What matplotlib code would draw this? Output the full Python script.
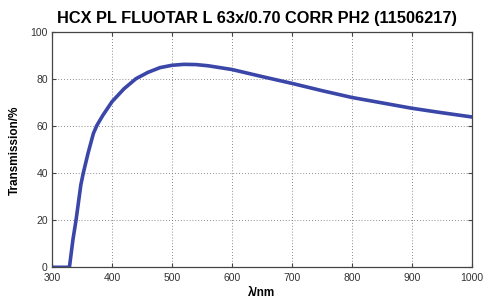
import numpy as np
import matplotlib
matplotlib.use("Agg")
import matplotlib.pyplot as plt

# transmission curve
wavelength = [300, 329, 335, 340, 348, 352, 360, 369, 375, 385, 400, 420, 440, 460, 480,
              500, 520, 540, 560, 580, 600, 650, 700, 750, 800, 850, 900, 950, 1000]
transmission = [0, 0, 12, 20, 35, 40, 48.5, 57, 60.5, 64.8, 70.5, 76, 80.3, 83, 85,
                86, 86.4, 86.3, 85.8, 85, 84.2, 81.2, 78.3, 75.2, 72.3, 70, 67.7, 65.8, 64.0]

x_ticks = [300, 400, 500, 600, 700, 800, 900, 1000]
y_ticks = [0, 20, 40, 60, 80, 100]

plt.rcParams['font.family'] = ['Liberation Sans', 'DejaVu Sans']

fig = plt.figure(figsize=(4.83, 3.0), dpi=100)
ax = fig.add_axes([0.1077, 0.109, 0.8693, 0.783])

ax.plot(wavelength, transmission, color='#3a46a8', lw=2.6, solid_joinstyle='round')

ax.set_xlim(300, 1000)
ax.set_ylim(0, 100)
ax.set_xticks(x_ticks)
ax.set_yticks(y_ticks)
ax.grid(True, color='#666666', linestyle=(0, (1, 2.5)), linewidth=0.6)
ax.tick_params(direction='in', length=3, width=0.8, colors='#444444',
               labelsize=7.5, labelcolor='#333333', top=True, right=True)
ax.tick_params(axis='x', pad=4)
ax.tick_params(axis='y', pad=3)
for s in ax.spines.values():
    s.set_color('#444444')
    s.set_linewidth(0.9)

ax.set_xlabel('λ/nm', fontsize=8.5, fontweight='bold', labelpad=3)
ax.set_ylabel('Transmission/%', fontsize=8.5, fontweight='bold', labelpad=7)
fig.text(0.532, 0.94, 'HCX PL FLUOTAR L 63x/0.70 CORR PH2 (11506217)',
         ha='center', va='center', fontsize=11.8, fontweight='bold')

fig.savefig('out.png', dpi=100)
